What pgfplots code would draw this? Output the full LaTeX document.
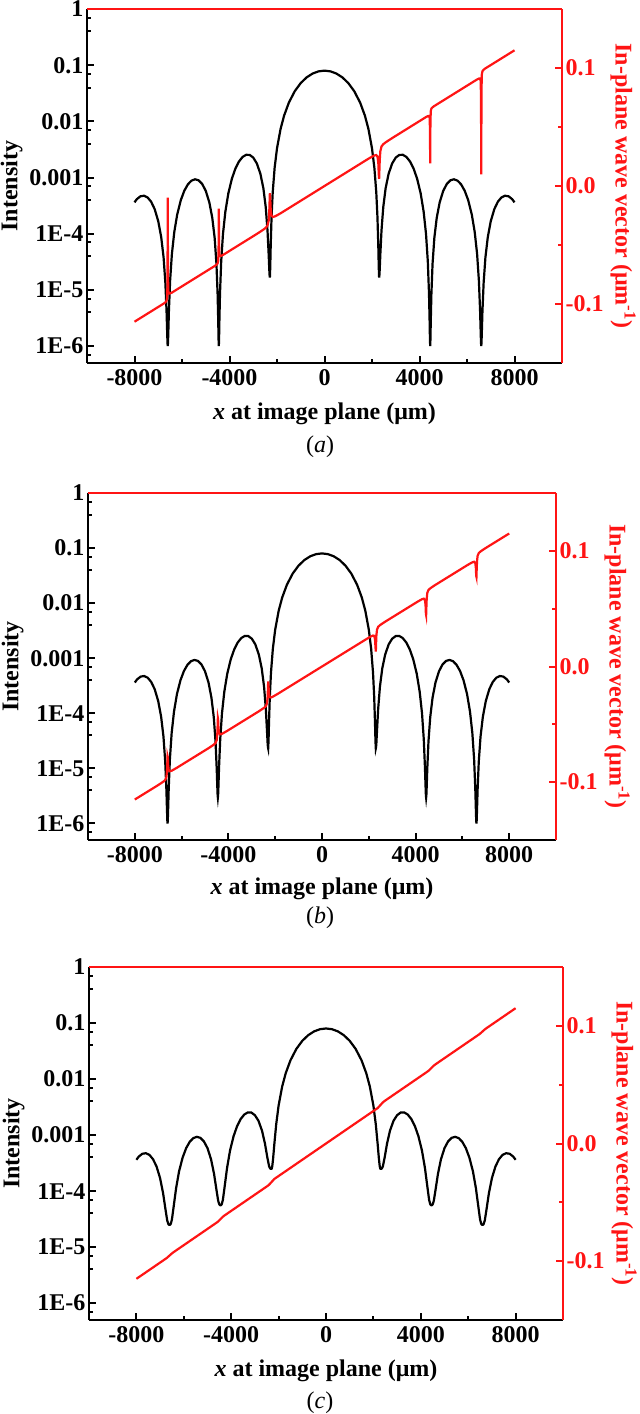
\documentclass[border=0pt]{standalone}
\usepackage{fontspec}
\setmainfont{Liberation Serif}
\usepackage{pgfplots}
\usepackage{pgfplotstable}
\pgfplotsset{compat=1.18}
\definecolor{kred}{RGB}{255,20,20}

\pgfplotstableread{
x I k
-8000 3.620e-4 -0.115
-7900 4.130e-4 -0.11375
-7750 4.638e-4 -0.111875
-7600 4.749e-4 -0.11
-7450 4.429e-4 -0.108125
-7300 3.719e-4 -0.10625
-7150 2.739e-4 -0.104375
-7000 1.670e-4 -0.1025
-6875 8.676e-5 -0.100938
-6775 3.773e-5 -0.099688
-6700 1.332e-5 -0.09854
-6650 4.122e-6 -0.097285
-6625 1.786e-6 -0.094543
-6610 1.127e-6 -0.080605
-6600 1.0e-6 -0.0099
-6590 1.133e-6 -0.075355
-6575 1.837e-6 -0.088918
-6550 4.378e-6 -0.091035
-6500 1.474e-5 -0.09104
-6425 4.381e-5 -0.090313
-6325 1.070e-4 -0.089063
-6200 2.218e-4 -0.0875
-6050 3.965e-4 -0.085625
-5900 5.859e-4 -0.08375
-5750 7.586e-4 -0.081875
-5600 8.822e-4 -0.08
-5450 9.314e-4 -0.078125
-5300 8.929e-4 -0.07625
-5150 7.690e-4 -0.074375
-5000 5.805e-4 -0.0725
-4850 3.624e-4 -0.070625
-4725 1.918e-4 -0.069063
-4625 8.416e-5 -0.067813
-4550 2.936e-5 -0.06672
-4500 8.267e-6 -0.06563
-4475 2.838e-6 -0.06355
-4460 1.296e-6 -0.05413
-4450 1.0e-6 -0.019225
-4440 1.299e-6 -0.04888
-4425 2.88e-6 -0.05792
-4400 8.606e-6 -0.05938
-4350 3.206e-5 -0.059215
-4275 9.843e-5 -0.058438
-4175 2.457e-4 -0.057188
-4050 5.197e-4 -0.055625
-3900 9.541e-4 -0.05375
-3750 1.450e-3 -0.051875
-3600 1.935e-3 -0.05
-3450 2.324e-3 -0.048125
-3300 2.540e-3 -0.04625
-3150 2.528e-3 -0.044375
-3000 2.266e-3 -0.0425
-2850 1.787e-3 -0.040625
-2700 1.169e-3 -0.03865
-2575 6.496e-4 -0.03698
-2475 2.994e-4 -0.035438
-2400 1.145e-4 -0.03351
-2350 4.196e-5 -0.029325
-2325 2.306e-5 -0.021438
-2310 1.765e-5 -0.012105
-2300 1.66e-5 -0.006
-2285 2.48e-5 -0.009993
-2265 6.14e-5 -0.019783
-2230 1.963e-4 -0.025015
-2180 5.462e-4 -0.0262
-2100 1.489e-3 -0.02586
-2000 3.311e-3 -0.02483
-1850 7.323e-3 -0.023125
-1700 1.270e-2 -0.02125
-1500 2.160e-2 -0.01875
-1250 3.457e-2 -0.015625
-1000 4.814e-2 -0.0125
-750 6.078e-2 -0.009375
-500 7.103e-2 -0.00625
-250 7.769e-2 -0.003125
0 0.08 0
250 7.769e-2 0.003125
500 7.103e-2 0.00625
750 6.078e-2 0.009375
1000 4.814e-2 0.0125
1250 3.457e-2 0.015625
1500 2.160e-2 0.01875
1700 1.270e-2 0.02125
1850 7.323e-3 0.023125
2000 3.311e-3 0.02483
2100 1.489e-3 0.02586
2180 5.462e-4 0.0262
2230 1.963e-4 0.025015
2265 6.14e-5 0.019783
2285 2.48e-5 0.009993
2300 1.66e-5 0.006
2310 1.765e-5 0.012105
2325 2.306e-5 0.021438
2350 4.196e-5 0.029325
2400 1.145e-4 0.03351
2475 2.994e-4 0.035438
2575 6.496e-4 0.03698
2700 1.169e-3 0.03865
2850 1.787e-3 0.040625
3000 2.266e-3 0.0425
3150 2.528e-3 0.044375
3300 2.540e-3 0.04625
3450 2.324e-3 0.048125
3600 1.935e-3 0.05
3750 1.450e-3 0.051875
3900 9.541e-4 0.05375
4050 5.197e-4 0.055625
4175 2.457e-4 0.057188
4275 9.843e-5 0.058438
4350 3.206e-5 0.059215
4400 8.606e-6 0.05938
4425 2.88e-6 0.05792
4440 1.299e-6 0.04888
4450 1.0e-6 0.019225
4460 1.296e-6 0.05413
4475 2.838e-6 0.06355
4500 8.267e-6 0.06563
4550 2.936e-5 0.06672
4625 8.416e-5 0.067813
4725 1.918e-4 0.069063
4850 3.624e-4 0.070625
5000 5.805e-4 0.0725
5150 7.690e-4 0.074375
5300 8.929e-4 0.07625
5450 9.314e-4 0.078125
5600 8.822e-4 0.08
5750 7.586e-4 0.081875
5900 5.859e-4 0.08375
6050 3.965e-4 0.085625
6200 2.218e-4 0.0875
6325 1.070e-4 0.089063
6425 4.381e-5 0.090313
6500 1.474e-5 0.09104
6550 4.378e-6 0.091035
6575 1.837e-6 0.088918
6590 1.133e-6 0.075355
6600 1.0e-6 0.0099
6610 1.127e-6 0.080605
6625 1.786e-6 0.094543
6650 4.122e-6 0.097285
6700 1.332e-5 0.09854
6775 3.773e-5 0.099688
6875 8.676e-5 0.100938
7000 1.670e-4 0.1025
7150 2.739e-4 0.104375
7300 3.719e-4 0.10625
7450 4.429e-4 0.108125
7600 4.749e-4 0.11
7750 4.638e-4 0.111875
7900 4.130e-4 0.11375
8000 3.620e-4 0.115
}\tabA

\pgfplotstableread{
x I k
-8000 3.620e-4 -0.115
-7900 4.130e-4 -0.11375
-7750 4.638e-4 -0.111875
-7600 4.749e-4 -0.11
-7450 4.429e-4 -0.108125
-7300 3.719e-4 -0.10625
-7150 2.739e-4 -0.104375
-7000 1.670e-4 -0.1025
-6875 8.676e-5 -0.10085
-6775 3.773e-5 -0.099462
-6700 1.332e-5 -0.098076
-6650 4.122e-6 -0.09571
-6625 1.786e-6 -0.090988
-6610 1.127e-6 -0.083625
-6600 1.0e-6 -0.0775
-6590 1.133e-6 -0.078375
-6575 1.837e-6 -0.085363
-6550 4.378e-6 -0.08946
-6500 1.474e-5 -0.090576
-6425 4.381e-5 -0.090087
-6325 1.070e-4 -0.08897
-6200 2.218e-4 -0.0875
-6050 3.965e-4 -0.085625
-5900 5.859e-4 -0.08375
-5750 7.586e-4 -0.081875
-5600 8.822e-4 -0.08
-5450 9.314e-4 -0.078125
-5300 8.929e-4 -0.07625
-5150 7.690e-4 -0.074375
-5000 5.805e-4 -0.0725
-4850 3.624e-4 -0.070625
-4725 1.925e-4 -0.06896
-4625 8.499e-5 -0.067573
-4550 3.071e-5 -0.066159
-4500 1.002e-5 -0.063683
-4475 4.735e-6 -0.058684
-4460 3.237e-6 -0.05087
-4450 2.95e-6 -0.044525
-4440 3.240e-6 -0.04562
-4425 4.778e-6 -0.053059
-4400 1.036e-5 -0.057433
-4350 3.341e-5 -0.058659
-4275 9.926e-5 -0.058198
-4175 2.457e-4 -0.05709
-4050 5.197e-4 -0.055625
-3900 9.541e-4 -0.05375
-3750 1.450e-3 -0.051875
-3600 1.935e-3 -0.05
-3450 2.324e-3 -0.048125
-3300 2.540e-3 -0.04625
-3150 2.528e-3 -0.044375
-3000 2.266e-3 -0.0425
-2850 1.787e-3 -0.040625
-2700 1.169e-3 -0.03875
-2575 6.511e-4 -0.03709
-2475 3.022e-4 -0.035701
-2400 1.190e-4 -0.034294
-2350 4.772e-5 -0.031843
-2325 2.929e-5 -0.026906
-2310 2.402e-5 -0.019195
-2300 2.3e-5 -0.0129
-2285 3.12e-5 -0.016819
-2265 6.75e-5 -0.0238
-2230 2.016e-4 -0.02649
-2180 5.501e-4 -0.026755
-2100 1.492e-3 -0.02607
-2000 3.311e-3 -0.02492
-1850 7.323e-3 -0.023125
-1700 1.270e-2 -0.02125
-1500 2.160e-2 -0.01875
-1250 3.457e-2 -0.015625
-1000 4.814e-2 -0.0125
-750 6.078e-2 -0.009375
-500 7.103e-2 -0.00625
-250 7.769e-2 -0.003125
0 0.08 0
250 7.769e-2 0.003125
500 7.103e-2 0.00625
750 6.078e-2 0.009375
1000 4.814e-2 0.0125
1250 3.457e-2 0.015625
1500 2.160e-2 0.01875
1700 1.270e-2 0.02125
1850 7.323e-3 0.023125
2000 3.311e-3 0.02492
2100 1.492e-3 0.02607
2180 5.501e-4 0.026755
2230 2.016e-4 0.02649
2265 6.75e-5 0.0238
2285 3.12e-5 0.016819
2300 2.3e-5 0.0129
2310 2.402e-5 0.019195
2325 2.929e-5 0.026906
2350 4.772e-5 0.031843
2400 1.190e-4 0.034294
2475 3.022e-4 0.035701
2575 6.511e-4 0.03709
2700 1.169e-3 0.03875
2850 1.787e-3 0.040625
3000 2.266e-3 0.0425
3150 2.528e-3 0.044375
3300 2.540e-3 0.04625
3450 2.324e-3 0.048125
3600 1.935e-3 0.05
3750 1.450e-3 0.051875
3900 9.541e-4 0.05375
4050 5.197e-4 0.055625
4175 2.457e-4 0.05709
4275 9.926e-5 0.058198
4350 3.341e-5 0.058659
4400 1.036e-5 0.057433
4425 4.778e-6 0.053059
4440 3.240e-6 0.04562
4450 2.95e-6 0.044525
4460 3.237e-6 0.05087
4475 4.735e-6 0.058684
4500 1.002e-5 0.063683
4550 3.071e-5 0.066159
4625 8.499e-5 0.067573
4725 1.925e-4 0.06896
4850 3.624e-4 0.070625
5000 5.805e-4 0.0725
5150 7.690e-4 0.074375
5300 8.929e-4 0.07625
5450 9.314e-4 0.078125
5600 8.822e-4 0.08
5750 7.586e-4 0.081875
5900 5.859e-4 0.08375
6050 3.965e-4 0.085625
6200 2.218e-4 0.0875
6325 1.070e-4 0.08897
6425 4.381e-5 0.090087
6500 1.474e-5 0.090576
6550 4.378e-6 0.08946
6575 1.837e-6 0.085363
6590 1.133e-6 0.078375
6600 1.0e-6 0.0775
6610 1.127e-6 0.083625
6625 1.786e-6 0.090988
6650 4.122e-6 0.09571
6700 1.332e-5 0.098076
6775 3.773e-5 0.099462
6875 8.676e-5 0.10085
7000 1.670e-4 0.1025
7150 2.739e-4 0.104375
7300 3.719e-4 0.10625
7450 4.429e-4 0.108125
7600 4.749e-4 0.11
7750 4.638e-4 0.111875
7900 4.130e-4 0.11375
8000 3.620e-4 0.115
}\tabB

\pgfplotstableread{
x I k
-8000 3.620e-4 -0.115
-7900 4.130e-4 -0.113619
-7750 4.638e-4 -0.111547
-7600 4.749e-4 -0.109475
-7450 4.429e-4 -0.107403
-7300 3.719e-4 -0.105331
-7150 2.756e-4 -0.103259
-7000 1.701e-4 -0.101188
-6875 9.249e-5 -0.099461
-6775 4.791e-5 -0.09808
-6700 2.993e-5 -0.096961
-6650 2.572e-5 -0.096061
-6625 2.514e-5 -0.095612
-6610 2.502e-5 -0.095343
-6600 2.5e-5 -0.095163
-6590 2.503e-5 -0.094982
-6575 2.519e-5 -0.094713
-6550 2.598e-5 -0.094264
-6500 3.135e-5 -0.093364
-6425 5.399e-5 -0.092245
-6325 1.127e-4 -0.090864
-6200 2.249e-4 -0.089138
-6050 3.965e-4 -0.087066
-5900 5.859e-4 -0.084994
-5750 7.586e-4 -0.082922
-5600 8.822e-4 -0.08085
-5450 9.314e-4 -0.078778
-5300 8.929e-4 -0.076706
-5150 7.690e-4 -0.074634
-5000 5.844e-4 -0.072563
-4850 3.693e-4 -0.070491
-4725 2.046e-4 -0.068764
-4625 1.075e-4 -0.067383
-4550 6.742e-5 -0.066222
-4500 5.777e-5 -0.065219
-4475 5.635e-5 -0.064717
-4460 5.605e-5 -0.064417
-4450 5.6e-5 -0.064216
-4440 5.605e-5 -0.064016
-4425 5.64e-5 -0.063714
-4400 5.81e-5 -0.063213
-4350 7.02e-5 -0.062209
-4275 1.217e-4 -0.061048
-4175 2.585e-4 -0.059667
-4050 5.266e-4 -0.057941
-3900 9.541e-4 -0.055869
-3750 1.450e-3 -0.053797
-3600 1.935e-3 -0.051725
-3450 2.324e-3 -0.049653
-3300 2.540e-3 -0.047581
-3150 2.528e-3 -0.045509
-3000 2.266e-3 -0.043438
-2850 1.804e-3 -0.041366
-2700 1.200e-3 -0.039294
-2575 7.031e-4 -0.037567
-2475 3.984e-4 -0.036186
-2400 2.761e-4 -0.034983
-2350 2.52e-4 -0.033877
-2325 2.502e-4 -0.033322
-2310 2.5e-4 -0.03299
-2300 2.5e-4 -0.032769
-2285 2.559e-4 -0.032437
-2265 2.827e-4 -0.031993
-2230 3.877e-4 -0.031219
-2180 6.886e-4 -0.030111
-2100 1.573e-3 -0.029006
-2000 3.361e-3 -0.027625
-1850 7.348e-3 -0.025553
-1700 1.270e-2 -0.023481
-1500 2.160e-2 -0.020719
-1250 3.457e-2 -0.017266
-1000 4.814e-2 -0.013813
-750 6.078e-2 -0.010359
-500 7.103e-2 -0.006906
-250 7.769e-2 -0.003453
0 0.08 0
250 7.769e-2 0.003453
500 7.103e-2 0.006906
750 6.078e-2 0.010359
1000 4.814e-2 0.013813
1250 3.457e-2 0.017266
1500 2.160e-2 0.020719
1700 1.270e-2 0.023481
1850 7.348e-3 0.025553
2000 3.361e-3 0.027625
2100 1.573e-3 0.029006
2180 6.886e-4 0.030111
2230 3.877e-4 0.031219
2265 2.827e-4 0.031993
2285 2.559e-4 0.032437
2300 2.5e-4 0.032769
2310 2.5e-4 0.03299
2325 2.502e-4 0.033322
2350 2.52e-4 0.033877
2400 2.761e-4 0.034983
2475 3.984e-4 0.036186
2575 7.031e-4 0.037567
2700 1.200e-3 0.039294
2850 1.804e-3 0.041366
3000 2.266e-3 0.043438
3150 2.528e-3 0.045509
3300 2.540e-3 0.047581
3450 2.324e-3 0.049653
3600 1.935e-3 0.051725
3750 1.450e-3 0.053797
3900 9.541e-4 0.055869
4050 5.266e-4 0.057941
4175 2.585e-4 0.059667
4275 1.217e-4 0.061048
4350 7.02e-5 0.062209
4400 5.81e-5 0.063213
4425 5.64e-5 0.063714
4440 5.605e-5 0.064016
4450 5.6e-5 0.064216
4460 5.605e-5 0.064417
4475 5.635e-5 0.064717
4500 5.777e-5 0.065219
4550 6.742e-5 0.066222
4625 1.075e-4 0.067383
4725 2.046e-4 0.068764
4850 3.693e-4 0.070491
5000 5.844e-4 0.072563
5150 7.690e-4 0.074634
5300 8.929e-4 0.076706
5450 9.314e-4 0.078778
5600 8.822e-4 0.08085
5750 7.586e-4 0.082922
5900 5.859e-4 0.084994
6050 3.965e-4 0.087066
6200 2.249e-4 0.089138
6325 1.127e-4 0.090864
6425 5.399e-5 0.092245
6500 3.135e-5 0.093364
6550 2.598e-5 0.094264
6575 2.519e-5 0.094713
6590 2.503e-5 0.094982
6600 2.5e-5 0.095163
6610 2.502e-5 0.095343
6625 2.514e-5 0.095612
6650 2.572e-5 0.096061
6700 2.993e-5 0.096961
6775 4.791e-5 0.09808
6875 9.249e-5 0.099461
7000 1.701e-4 0.101188
7150 2.756e-4 0.103259
7300 3.719e-4 0.105331
7450 4.429e-4 0.107403
7600 4.749e-4 0.109475
7750 4.638e-4 0.111547
7900 4.130e-4 0.113619
8000 3.620e-4 0.115
}\tabC

\newcommand{\bigfont}{\fontsize{24}{28}\selectfont}

\begin{document}
\begin{tikzpicture}
\useasboundingbox (0pt,0pt) rectangle (640pt,-1414pt);
% ---------- (a)
\begin{semilogyaxis}[scale only axis, anchor=north west, at={(87pt,-9pt)}, width=475pt, height=354pt,
    xmin=-10000, xmax=10000, ymin=5e-7, ymax=1, scaled x ticks=false,
    tick align=inside, major tick length=7pt, minor tick length=4pt,
    tick label style={font=\bigfont\bfseries}, label style={font=\bigfont\bfseries},
    xticklabel style={yshift=-3pt}, xlabel style={yshift=-10pt},
    axis x line*=bottom, axis y line*=left,
    axis line style={line width=2.4pt},
    tick style={line width=2pt, black},
    xtick={-8000,-4000,0,4000,8000}, xticklabels={-8000,-4000,0,4000,8000},
    minor xtick={-6000,-2000,2000,6000},
    ytick={1e-6,1e-5,1e-4,1e-3,1e-2,1e-1,1},
    yticklabels={1E-6,1E-5,1E-4,0.001,0.01,0.1,1},
    minor ytick={7e-7,4e-6,7e-6,4e-5,7e-5,4e-4,7e-4,4e-3,7e-3,4e-2,7e-2,0.4,0.7},
    xlabel={\textit{x} at image plane (μm)}, ylabel={Intensity}]
\addplot[black, line width=2.2pt] table[x=x,y=I]{\tabA};
\end{semilogyaxis}
\begin{axis}[scale only axis, anchor=north west, at={(87pt,-9pt)}, width=475pt, height=354pt,
    xmin=-10000, xmax=10000, ymin=-0.15, ymax=0.15, clip=false,
    tick align=inside, major tick length=7pt, minor tick length=4pt,
    tick label style={font=\bigfont\bfseries}, label style={font=\bigfont\bfseries},
    axis x line=none, axis y line*=right,
    axis line style={kred, line width=2.4pt},
    tick style={kred, line width=2pt},
    ytick={-0.1,0,0.1}, yticklabels={-0.1,0.0,0.1}, minor ytick={-0.05,0.05},
    yticklabel style={text=kred}, ylabel style={text=kred, rotate=180},
    ylabel={In-plane wave vector (μm\textsuperscript{-1})}]
\addplot[kred, line width=2.2pt] table[x=x,y=k]{\tabA};
\draw[kred, line width=2.4pt] (rel axis cs:0,1) -- (rel axis cs:1,1);
\end{axis}
\node[font=\bigfont] at (320pt,-447pt) {(\textit{a})};
% ---------- (b)
\begin{semilogyaxis}[scale only axis, anchor=north west, at={(88pt,-493pt)}, width=468pt, height=347pt,
    xmin=-10000, xmax=10000, ymin=5e-7, ymax=1, scaled x ticks=false,
    tick align=inside, major tick length=7pt, minor tick length=4pt,
    tick label style={font=\bigfont\bfseries}, label style={font=\bigfont\bfseries},
    xticklabel style={yshift=-3pt}, xlabel style={yshift=-8pt},
    axis x line*=bottom, axis y line*=left,
    axis line style={line width=2.4pt},
    tick style={line width=2pt, black},
    xtick={-8000,-4000,0,4000,8000}, xticklabels={-8000,-4000,0,4000,8000},
    minor xtick={-6000,-2000,2000,6000},
    ytick={1e-6,1e-5,1e-4,1e-3,1e-2,1e-1,1},
    yticklabels={1E-6,1E-5,1E-4,0.001,0.01,0.1,1},
    minor ytick={7e-7,4e-6,7e-6,4e-5,7e-5,4e-4,7e-4,4e-3,7e-3,4e-2,7e-2,0.4,0.7},
    xlabel={\textit{x} at image plane (μm)}, ylabel={Intensity}]
\addplot[black, line width=2.2pt] table[x=x,y=I]{\tabB};
\end{semilogyaxis}
\begin{axis}[scale only axis, anchor=north west, at={(88pt,-493pt)}, width=468pt, height=347pt,
    xmin=-10000, xmax=10000, ymin=-0.15, ymax=0.15, clip=false,
    tick align=inside, major tick length=7pt, minor tick length=4pt,
    tick label style={font=\bigfont\bfseries}, label style={font=\bigfont\bfseries},
    axis x line=none, axis y line*=right,
    axis line style={kred, line width=2.4pt},
    tick style={kred, line width=2pt},
    ytick={-0.1,0,0.1}, yticklabels={-0.1,0.0,0.1}, minor ytick={-0.05,0.05},
    yticklabel style={text=kred}, ylabel style={text=kred, rotate=180},
    ylabel={In-plane wave vector (μm\textsuperscript{-1})}]
\addplot[kred, line width=2.2pt] table[x=x,y=k]{\tabB};
\draw[kred, line width=2.4pt] (rel axis cs:0,1) -- (rel axis cs:1,1);
\end{axis}
\node[font=\bigfont] at (320pt,-918pt) {(\textit{b})};
% ---------- (c)
\begin{semilogyaxis}[scale only axis, anchor=north west, at={(89pt,-967pt)}, width=474pt, height=353pt,
    xmin=-10000, xmax=10000, ymin=5e-7, ymax=1, scaled x ticks=false,
    tick align=inside, major tick length=7pt, minor tick length=4pt,
    tick label style={font=\bigfont\bfseries}, label style={font=\bigfont\bfseries},
    xticklabel style={yshift=-3pt}, xlabel style={yshift=-10pt},
    axis x line*=bottom, axis y line*=left,
    axis line style={line width=2.4pt},
    tick style={line width=2pt, black},
    xtick={-8000,-4000,0,4000,8000}, xticklabels={-8000,-4000,0,4000,8000},
    minor xtick={-6000,-2000,2000,6000},
    ytick={1e-6,1e-5,1e-4,1e-3,1e-2,1e-1,1},
    yticklabels={1E-6,1E-5,1E-4,0.001,0.01,0.1,1},
    minor ytick={7e-7,4e-6,7e-6,4e-5,7e-5,4e-4,7e-4,4e-3,7e-3,4e-2,7e-2,0.4,0.7},
    xlabel={\textit{x} at image plane (μm)}, ylabel={Intensity}]
\addplot[black, line width=2.2pt] table[x=x,y=I]{\tabC};
\end{semilogyaxis}
\begin{axis}[scale only axis, anchor=north west, at={(89pt,-967pt)}, width=474pt, height=353pt,
    xmin=-10000, xmax=10000, ymin=-0.15, ymax=0.15, clip=false,
    tick align=inside, major tick length=7pt, minor tick length=4pt,
    tick label style={font=\bigfont\bfseries}, label style={font=\bigfont\bfseries},
    axis x line=none, axis y line*=right,
    axis line style={kred, line width=2.4pt},
    tick style={kred, line width=2pt},
    ytick={-0.1,0,0.1}, yticklabels={-0.1,0.0,0.1}, minor ytick={-0.05,0.05},
    yticklabel style={text=kred}, ylabel style={text=kred, rotate=180},
    ylabel={In-plane wave vector (μm\textsuperscript{-1})}]
\addplot[kred, line width=2.2pt] table[x=x,y=k]{\tabC};
\draw[kred, line width=2.4pt] (rel axis cs:0,1) -- (rel axis cs:1,1);
\end{axis}
\node[font=\bigfont] at (320pt,-1403pt) {(\textit{c})};
\end{tikzpicture}
\end{document}
